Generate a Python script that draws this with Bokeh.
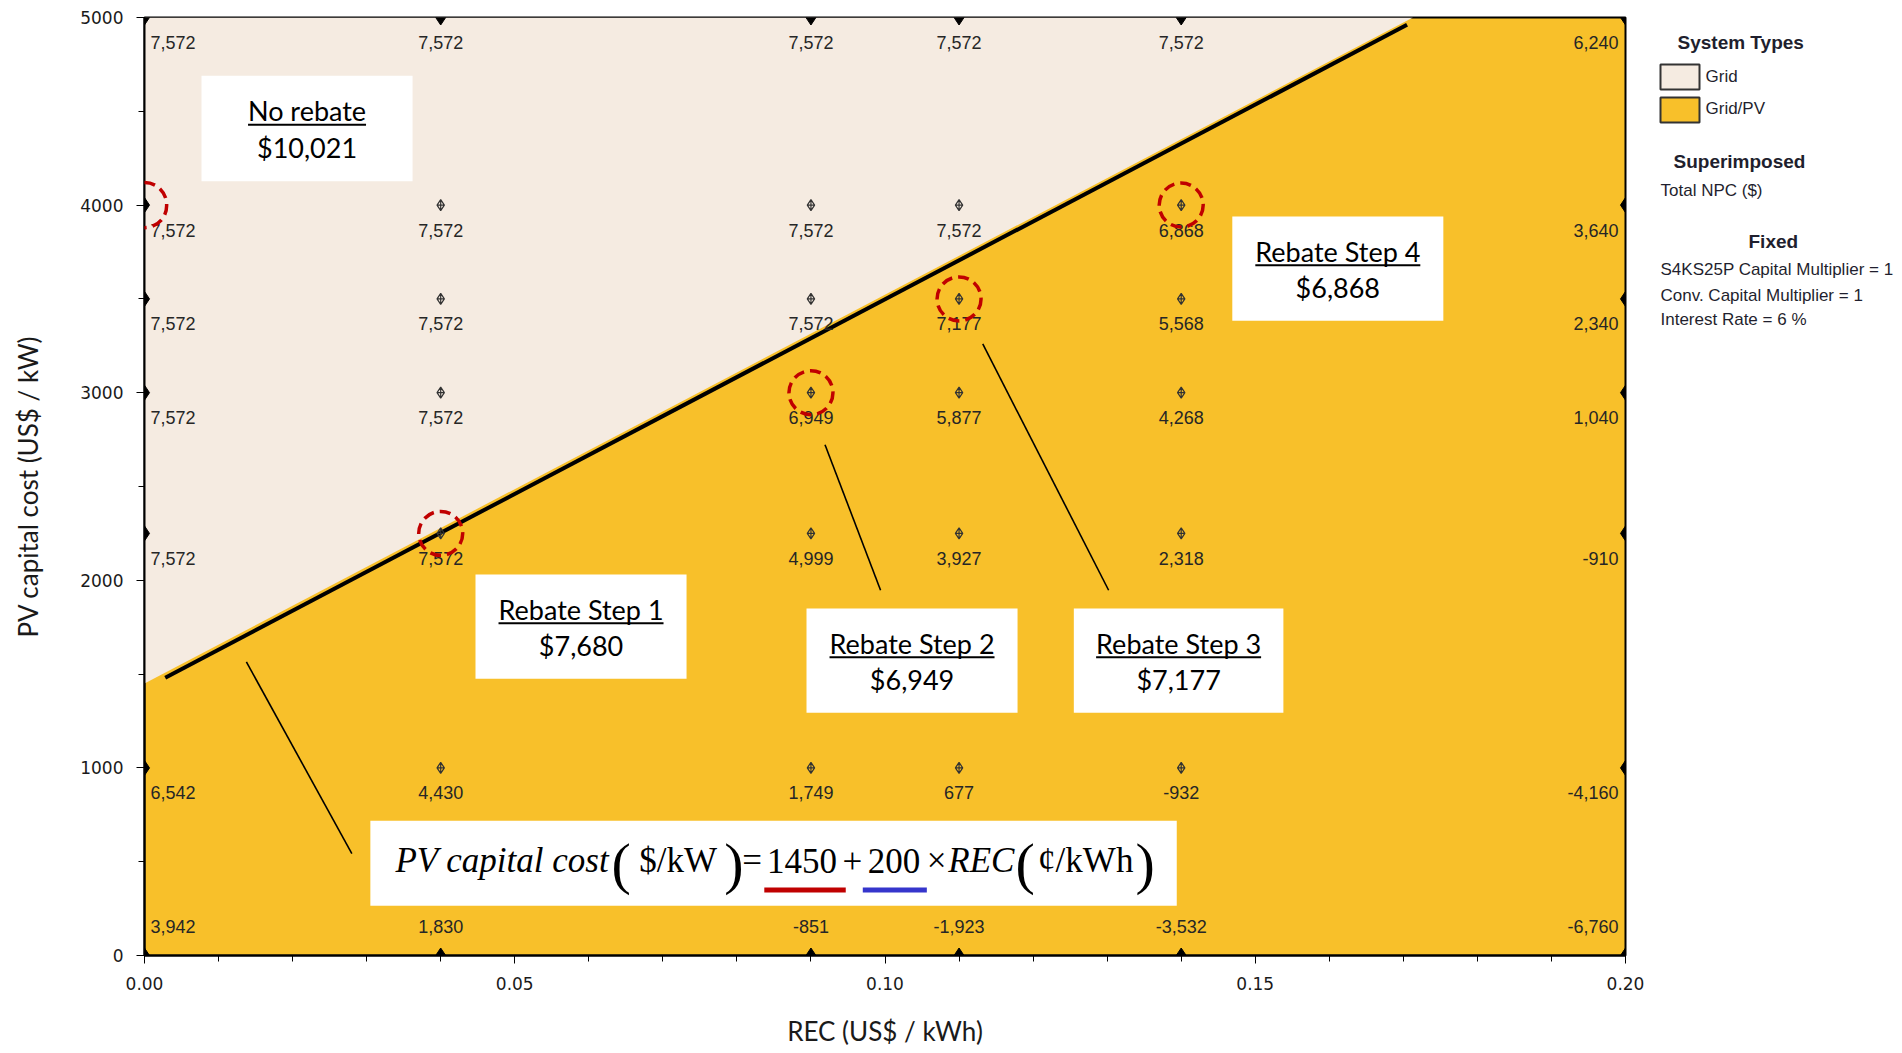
from bokeh.plotting import figure
from bokeh.layouts import row
from bokeh.models import Range1d, FixedTicker, NumeralTickFormatter, ColumnDataSource, Label
from bokeh.core.properties import value
from bokeh.embed import file_html
from bokeh.resources import INLINE

# ---------------- data ----------------
rec_values = [0.00, 0.04, 0.09, 0.11, 0.14, 0.20]          # REC (US$/kWh)
pv_costs = [5000, 4000, 3500, 3000, 2250, 1000, 0]          # PV capital cost (US$/kW)
total_npc = [                                               # Total NPC ($), rows follow pv_costs
    [7572, 7572, 7572, 7572, 7572, 6240],
    [7572, 7572, 7572, 7572, 6868, 3640],
    [7572, 7572, 7572, 7177, 5568, 2340],
    [7572, 7572, 6949, 5877, 4268, 1040],
    [7572, 7572, 4999, 3927, 2318, -910],
    [6542, 4430, 1749, 677, -932, -4160],
    [3942, 1830, -851, -1923, -3532, -6760],
]
boundary_rec = [0.0, 0.1713]        # Grid / Grid-PV boundary
boundary_cost = [1450, 5000]
fit_rec = [0.0028, 0.1705]          # drawn fit line
fit_cost = [1481, 4961]
optimal_rec = [0.00, 0.04, 0.09, 0.11, 0.14]
optimal_cost = [4000, 2250, 3000, 3500, 4000]

box_titles = ["No rebate", "Rebate Step 1", "Rebate Step 2", "Rebate Step 3", "Rebate Step 4"]
box_values = ["$10,021", "$7,680", "$6,949", "$7,177", "$6,868"]
box_left = [0.0077, 0.0447, 0.0894, 0.1255, 0.1469]
box_right = [0.0362, 0.0732, 0.1179, 0.1538, 0.1754]
box_bottom = [4127, 1475, 1294, 1294, 3383]
box_top = [4690, 2031, 1850, 1850, 3939]
underline_px = [118, 165, 165, 165, 165]

conn_x0 = [0.01376, 0.0919, 0.1132]
conn_y0 = [1565, 2723, 3260]
conn_x1 = [0.0280, 0.0994, 0.1302]
conn_y1 = [543, 1947, 1947]

eq_box = [0.0305, 0.1394, 265, 718]
eq_pieces = ["PV capital cost", "(", "$/kW", ")", "=", "1450", "+", "200", "\u00d7", "REC", "(", "\u00a2/kWh", ")"]
eq_x = [0.04832, 0.06437, 0.07207, 0.07961, 0.08206, 0.08878, 0.09560, 0.10123, 0.10696, 0.11302, 0.11892, 0.12711, 0.13514]
eq_kind = ["it", "par", "rm", "par", "rm", "rm", "rm", "rm", "rm", "it", "par", "rm", "par"]
red_ul = [0.0837, 0.0947]
blue_ul = [0.0970, 0.10565]

legend_titles = ["System Types", "Superimposed", "Fixed"]
legend_items = ["Grid", "Grid/PV"]
superimposed = ["Total NPC ($)"]
fixed_lines = ["S4KS25P Capital Multiplier = 1", "Conv. Capital Multiplier = 1", "Interest Rate = 6 %"]

GOLD = "#F8C02A"
BEIGE = "#F5EBE1"
TXT = "#262626"

# ---------------- main figure ----------------
FRAME_L, FRAME_T, FRAME_W, FRAME_H = 144, 17, 1481, 938
MAIN_W, TOTAL_W, TOTAL_H = 1645, 1902, 1050
p = figure(width=MAIN_W, height=TOTAL_H, min_border_left=FRAME_L, min_border_top=FRAME_T,
           min_border_right=MAIN_W - FRAME_L - FRAME_W,
           min_border_bottom=TOTAL_H - FRAME_T - FRAME_H,
           x_range=Range1d(0, 0.2), y_range=Range1d(0, 5000),
           output_backend="svg", toolbar_location=None,
           background_fill_color=GOLD, border_fill_color="white",
           outline_line_color="black", outline_line_width=2)
p.grid.visible = False

p.xaxis.ticker = FixedTicker(ticks=[0, 0.05, 0.10, 0.15, 0.20], minor_ticks=[i / 100 for i in range(21)])
p.xaxis.formatter = NumeralTickFormatter(format="0.00")
p.yaxis.ticker = FixedTicker(ticks=[0, 1000, 2000, 3000, 4000, 5000], minor_ticks=list(range(0, 5001, 500)))
p.yaxis.formatter = NumeralTickFormatter(format="0")
p.xaxis.axis_label = "REC (US$ / kWh)"
p.yaxis.axis_label = "PV capital cost (US$ / kW)"
for ax in (p.xaxis, p.yaxis):
    ax.axis_line_width = 2
    ax.axis_line_color = "black"
    ax.major_tick_out = 8
    ax.major_tick_in = 0
    ax.minor_tick_out = 6
    ax.minor_tick_in = 0
    ax.major_tick_line_color = "black"
    ax.minor_tick_line_color = "black"
    ax.major_label_text_font = "DejaVu Sans"
    ax.major_label_text_font_size = "17px"
    ax.major_label_text_color = "#1a1a1a"
    ax.major_label_standoff = 13
    ax.axis_label_text_font = "Lato"
    ax.axis_label_text_font_size = "26px"
    ax.axis_label_text_font_style = "normal"
    ax.axis_label_text_color = "#1a1a1a"
p.xaxis.axis_label_standoff = 22
p.yaxis.axis_label_standoff = 33

# Grid region (above boundary)
p.patch(x=[boundary_rec[0], boundary_rec[1], p.x_range.start],
        y=[boundary_cost[0], boundary_cost[1], p.y_range.end],
        fill_color=BEIGE, line_color=None)

# fit line
p.line(fit_rec, fit_cost, line_color="black", line_width=4)

# connectors
p.segment(conn_x0, conn_y0, conn_x1, conn_y1, line_color="black", line_width=1.6)

# grid points and NPC labels
xmin, xmax = rec_values[0], rec_values[-1]
ymin, ymax = pv_costs[-1], pv_costs[0]
inner = dict(x=[], y=[])
edge = dict(x=[], y=[])
lab = {"left": dict(x=[], y=[], t=[], yo=[]), "center": dict(x=[], y=[], t=[], yo=[]), "right": dict(x=[], y=[], t=[], yo=[])}
for i, yc in enumerate(pv_costs):
    for j, xr in enumerate(rec_values):
        on_edge = xr in (xmin, xmax) or yc in (ymin, ymax)
        d = edge if on_edge else inner
        d["x"].append(xr)
        d["y"].append(yc)
        key = "left" if xr == xmin else ("right" if xr == xmax else "center")
        lab[key]["x"].append(xr)
        lab[key]["y"].append(yc)
        lab[key]["t"].append(f"{total_npc[i][j]:,}")
        lab[key]["yo"].append(-29 if yc == ymin else 25)

p.scatter(inner["x"], inner["y"], marker="diamond_cross", size=11, fill_color=None,
          line_color="#333333", line_width=1.2)
p.scatter(edge["x"], edge["y"], marker="diamond", size=15, fill_color="black", line_color="black")

for key, xo in (("left", 6), ("center", 0), ("right", -7)):
    d = lab[key]
    src = ColumnDataSource(dict(x=d["x"], y=d["y"], t=d["t"], yo=d["yo"]))
    p.text(x="x", y="y", text="t", y_offset="yo", x_offset=xo, source=src,
           text_font=value("Liberation Sans"), text_font_size="18px", text_color=TXT,
           text_align=key, text_baseline="middle")

# optimal-point circles
R = 22  # circle radius in px
for cx, cy in zip(optimal_rec, optimal_cost):
    if cx == xmin:
        # on the frame edge: a round-bordered empty label, which is not clipped to the frame
        p.add_layout(Label(x=cx, y=cy, text=" ", text_font_size="1px", text_align="center",
                           text_baseline="middle", padding=R, border_radius=R,
                           border_line_color="#C00000", border_line_width=3.5, border_line_dash="11 6",
                           background_fill_color=None))
    else:
        p.scatter([cx], [cy], marker="circle", size=2 * R, fill_color=None,
                  line_color="#C00000", line_width=3.5, line_dash="11 6")

# annotation boxes
p.quad(left=box_left, right=box_right, bottom=box_bottom, top=box_top, fill_color="white", line_color=None)
bx = [(l + r) / 2 for l, r in zip(box_left, box_right)]
ty = [b + 0.667 * (t - b) for b, t in zip(box_bottom, box_top)]
vy = [b + 0.32 * (t - b) for b, t in zip(box_bottom, box_top)]
p.text(x=bx, y=ty, text=box_titles, text_font=value("Lato"), text_font_size="27px",
       text_color="black", text_align="center", text_baseline="middle")
p.text(x=bx, y=vy, text=box_values, text_font=value("Lato"), text_font_size="27px",
       text_color="black", text_align="center", text_baseline="middle")
px2x = 0.2 / FRAME_W
px2y = 5000 / FRAME_H
p.segment(x0=[c - w * px2x / 2 for c, w in zip(bx, underline_px)], y0=[y - 14 * px2y for y in ty],
          x1=[c + w * px2x / 2 for c, w in zip(bx, underline_px)], y1=[y - 14 * px2y for y in ty],
          line_color="black", line_width=2)

# equation box
p.quad(left=[eq_box[0]], right=[eq_box[1]], bottom=[eq_box[2]], top=[eq_box[3]], fill_color="white", line_color=None)
for txt, ex, kind in zip(eq_pieces, eq_x, eq_kind):
    if kind == "par":
        p.text(x=[ex], y=[488], text=[txt], text_font=value("Liberation Serif"), text_font_size="58px",
               text_color="black", text_align="center", text_baseline="middle")
    else:
        p.text(x=[ex], y=[505], text=[txt], text_font=value("Liberation Serif"), text_font_size="35px",
               text_font_style="italic" if kind == "it" else "normal",
               text_color="black", text_align="center", text_baseline="middle")
p.segment(x0=[red_ul[0]], y0=[349], x1=[red_ul[1]], y1=[349], line_color="#C00000", line_width=5)
p.segment(x0=[blue_ul[0]], y0=[349], x1=[blue_ul[1]], y1=[349], line_color="#3535CC", line_width=5)

# ---------------- legend panel (page-pixel coordinates; frame is row-aligned with main frame) ----------------
lg = figure(width=TOTAL_W - MAIN_W, height=TOTAL_H, min_border=0,
            x_range=Range1d(MAIN_W, TOTAL_W), y_range=Range1d(FRAME_T + FRAME_H, FRAME_T),
            output_backend="svg", toolbar_location=None, outline_line_color=None,
            x_axis_location=None, y_axis_location=None, border_fill_color="white", background_fill_color="white")
lg.grid.visible = False
LT = "#1f1f2e"
lg.text(x=[1677, 1673, 1748], y=[42, 161, 241], text=legend_titles, text_font=value("Liberation Sans"),
        text_font_size="19px", text_font_style="bold", text_color=LT, text_baseline="middle")
lg.quad(left=[1660, 1660], right=[1699, 1699], top=[64, 97], bottom=[89, 122], fill_color=[BEIGE, GOLD],
        line_color="#333333", line_width=2)
lg.text(x=[1705, 1705], y=[76, 108], text=legend_items, text_font=value("Liberation Sans"),
        text_font_size="17px", text_color=LT, text_baseline="middle")
lg.text(x=[1660], y=[190], text=superimposed, text_font=value("Liberation Sans"),
        text_font_size="17px", text_color=LT, text_baseline="middle")
lg.text(x=[1660, 1660, 1660], y=[269, 295, 319], text=fixed_lines, text_font=value("Liberation Sans"),
        text_font_size="17px", text_color=LT, text_baseline="middle")

layout = row(p, lg)
open("out.html", "w").write(file_html(layout, INLINE))
